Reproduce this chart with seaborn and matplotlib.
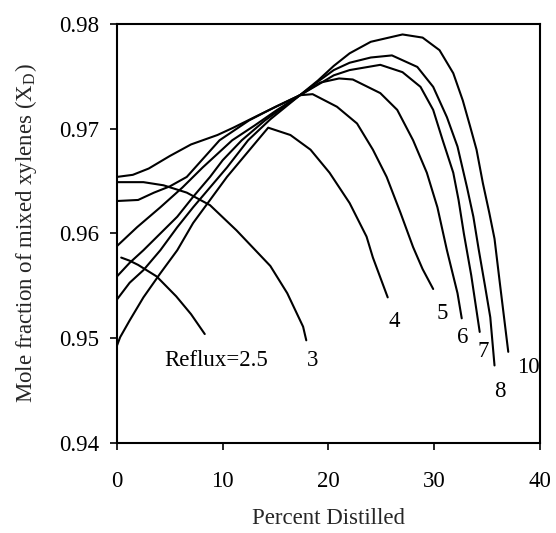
import matplotlib
matplotlib.use("Agg")
import matplotlib.pyplot as plt
import seaborn as sns
import pandas as pd

sns.set_style("ticks")
plt.rcParams["font.family"] = ["Liberation Serif", "DejaVu Serif"]
plt.rcParams["mathtext.fontset"] = "stix"

# Curvas: (porcentaje destilado, fracción molar)
x_r25 = [0.4, 1.2, 2.0, 3.75, 5.6, 7.0, 8.3]
y_r25 = [0.9577, 0.9574, 0.9570, 0.9559, 0.9540, 0.9523, 0.9504]

x_r3 = [0.0, 2.5, 4.4, 6.6, 8.8, 11.3, 14.5, 16.1, 17.6, 17.9]
y_r3 = [0.9649, 0.9649, 0.9646, 0.9639, 0.9627, 0.9603, 0.9569, 0.9543, 0.9511, 0.9498]

x_r4 = [0.0, 0.3, 1.2, 2.5, 4.1, 5.7, 7.2, 8.8, 10.4, 13.3, 14.3, 16.4, 18.3, 20.1, 22.0, 23.6, 24.2, 25.6]
y_r4 = [0.9493, 0.9501, 0.9517, 0.9539, 0.9562, 0.9584, 0.9610, 0.9632, 0.9654, 0.9689, 0.9701,
        0.9694, 0.9680, 0.9658, 0.9629, 0.9597, 0.9577, 0.9539]

x_r5 = [0.0, 1.2, 2.5, 4.1, 5.7, 7.2, 8.8, 10.4, 12.4, 14.5, 17.3, 18.5, 20.8, 22.7, 24.2, 25.5,
        26.8, 28.0, 28.9, 29.9]
y_r5 = [0.9537, 0.9553, 0.9565, 0.9584, 0.9606, 0.9625, 0.9644, 0.9663, 0.9689, 0.9709, 0.9732,
        0.9733, 0.9721, 0.9705, 0.9680, 0.9654, 0.9620, 0.9587, 0.9566, 0.9547]

x_r6 = [0.0, 1.2, 2.5, 4.1, 5.7, 7.2, 8.8, 10.0, 11.8, 14.0, 17.3, 19.2, 21.0, 22.3, 24.9, 26.5,
        28.0, 29.3, 30.3, 31.2, 32.2, 32.6]
y_r6 = [0.9559, 0.9572, 0.9584, 0.9600, 0.9616, 0.9635, 0.9654, 0.9670, 0.9689, 0.9708, 0.9732,
        0.9744, 0.9748, 0.9747, 0.9734, 0.9718, 0.9689, 0.9658, 0.9625, 0.9584, 0.9543, 0.9519]

x_r7 = [0.0, 1.9, 4.1, 6.2, 8.1, 10.9, 13.0, 15.0, 17.3, 19.0, 20.5, 22.0, 24.9, 27.0, 28.7, 29.9,
        30.8, 31.8, 32.3, 32.8, 33.5, 34.3]
y_r7 = [0.9588, 0.9606, 0.9625, 0.9644, 0.9663, 0.9689, 0.9703, 0.9717, 0.9732, 0.9742, 0.9751,
        0.9756, 0.9761, 0.9754, 0.9740, 0.9718, 0.9689, 0.9658, 0.9632, 0.9600, 0.9560, 0.9506]

x_r8 = [0.0, 2.0, 3.5, 5.0, 6.6, 9.7, 12.5, 15.0, 17.3, 19.0, 20.5, 22.0, 24.0, 26.0, 28.4, 29.9,
        31.2, 32.2, 33.1, 33.7, 34.2, 34.8, 35.3, 35.7]
y_r8 = [0.9631, 0.9632, 0.9639, 0.9645, 0.9654, 0.9689, 0.9708, 0.9721, 0.9732, 0.9745, 0.9756,
        0.9763, 0.9768, 0.9770, 0.9759, 0.9740, 0.9711, 0.9683, 0.9644, 0.9616, 0.9585, 0.9550,
        0.9520, 0.9474]

x_r10 = [0.0, 1.5, 3.0, 5.0, 7.0, 9.5, 11.0, 14.0, 17.3, 19.0, 20.5, 22.0, 24.0, 27.0, 28.9, 30.5,
         31.8, 32.7, 33.4, 34.0, 34.6, 35.2, 35.7, 36.2, 37.0]
y_r10 = [0.9654, 0.9656, 0.9662, 0.9674, 0.9685, 0.9694, 0.9701, 0.9716, 0.9732, 0.9746, 0.9760,
         0.9772, 0.9783, 0.9790, 0.9787, 0.9775, 0.9753, 0.9727, 0.9702, 0.9680, 0.9648, 0.9620,
         0.9595, 0.9553, 0.9487]

# Etiquetas de cada curva
label_text = ["Reflux=2.5", "3", "4", "5", "6", "7", "8", "10"]
label_x = [9.4, 18.5, 26.2, 30.8, 32.7, 34.6, 36.2, 38.9]
label_y = [0.9479, 0.9479, 0.9516, 0.9524, 0.9501, 0.9487, 0.9449, 0.9472]

curves = [(x_r25, y_r25), (x_r3, y_r3), (x_r4, y_r4), (x_r5, y_r5),
          (x_r6, y_r6), (x_r7, y_r7), (x_r8, y_r8), (x_r10, y_r10)]

FS = 16.5

fig = plt.figure(figsize=(5.56, 5.33), dpi=100)
ax = fig.add_axes([0.2104, 0.1689, 0.7608, 0.7861])

for xs, ys in curves:
    df = pd.DataFrame({"x": xs, "y": ys})
    sns.lineplot(data=df, x="x", y="y", sort=False, estimator=None,
                 color="black", linewidth=1.5, ax=ax)

for t, lx, ly in zip(label_text, label_x, label_y):
    ax.text(lx, ly, t, ha="center", va="center", fontsize=FS, color="black")

ax.set_xlim(0, 40)
ax.set_ylim(0.94, 0.98)
ax.set_xticks([0, 10, 20, 30, 40])
ax.set_yticks([0.94, 0.95, 0.96, 0.97, 0.98])
ax.set_yticklabels(["0.94", "0.95", "0.96", "0.97", "0.98"])
ax.tick_params(direction="out", length=5, width=1.2, labelsize=FS, colors="black")
ax.tick_params(axis="y", pad=8)
ax.tick_params(axis="x", pad=15)
for s in ax.spines.values():
    s.set_visible(True)
    s.set_color("black")
    s.set_linewidth(1.5)

ax.set_xlabel("Percent Distilled", fontsize=FS, labelpad=12)
ax.set_ylabel(r"Mole fraction of mixed xylenes (X$_\mathregular{D}$)", fontsize=FS, labelpad=14)

fig.savefig("out.png", dpi=100)
plt.close(fig)
